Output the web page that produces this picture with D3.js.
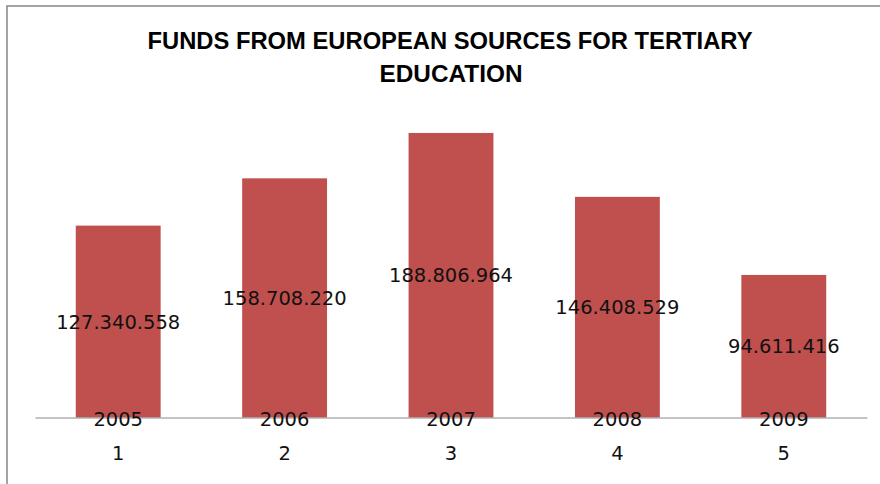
<!DOCTYPE html>
<html>
<head>
<meta charset="utf-8">
<script src="https://cdn.jsdelivr.net/npm/d3@7"></script>
<style>
  html, body { margin: 0; padding: 0; background: #fff; }
  svg { display: block; }
</style>
</head>
<body>
<svg id="chart" width="880" height="484"></svg>
<script>
const titleLines = ["FUNDS FROM EUROPEAN SOURCES FOR TERTIARY", "EDUCATION"];
const categories = ["1", "2", "3", "4", "5"];
const years = ["2005", "2006", "2007", "2008", "2009"];
const values = [127340558, 158708220, 188806964, 146408529, 94611416];
const valueLabels = ["127.340.558", "158.708.220", "188.806.964", "146.408.529", "94.611.416"];

const svg = d3.select("#chart");
const W = 880, H = 484;

// outer frame (chart area border, cut at right/bottom)
svg.append("rect")
  .attr("x", 7).attr("y", 6)
  .attr("width", W + 20).attr("height", H + 20)
  .attr("fill", "#fff")
  .attr("stroke", "#868686").attr("stroke-width", 1.5);

const x = d3.scaleBand()
  .domain(categories)
  .range([35, 867])
  .paddingInner(0.49)
  .paddingOuter(0.245);

const y = d3.scaleLinear()
  .domain([0, 200000000])
  .range([417.5, 116.1]);

const data = categories.map((c, i) => ({ c, year: years[i], v: values[i], label: valueLabels[i] }));

// bars
svg.append("g").selectAll("rect")
  .data(data).join("rect")
  .attr("x", d => x(d.c))
  .attr("y", d => y(d.v))
  .attr("width", x.bandwidth())
  .attr("height", d => y(0) - y(d.v))
  .attr("fill", "#C0504D");

// category axis line
const axis = d3.axisBottom(x).tickSize(0).tickFormat("");
const ax = svg.append("g").attr("transform", `translate(0,${y(0)})`).call(axis);
ax.select(".domain").attr("stroke", "#8a8a8a").attr("stroke-width", 1.2);

const labelFont = "'DejaVu Sans', Verdana, sans-serif";

// value labels (centered in bar)
svg.append("g").selectAll("text")
  .data(data).join("text")
  .attr("x", d => x(d.c) + x.bandwidth() / 2)
  .attr("y", d => (y(d.v) + y(0)) / 2)
  .attr("dy", "0.36em")
  .attr("text-anchor", "middle")
  .attr("font-family", labelFont)
  .attr("font-size", 19.5)
  .attr("fill", "#111")
  .text(d => d.label);

// year labels at base
svg.append("g").selectAll("text")
  .data(data).join("text")
  .attr("x", d => x(d.c) + x.bandwidth() / 2)
  .attr("y", 419)
  .attr("dy", "0.36em")
  .attr("text-anchor", "middle")
  .attr("font-family", labelFont)
  .attr("font-size", 19.5)
  .attr("fill", "#111")
  .text(d => d.year);

// category tick labels
svg.append("g").selectAll("text")
  .data(data).join("text")
  .attr("x", d => x(d.c) + x.bandwidth() / 2)
  .attr("y", 452.5)
  .attr("dy", "0.36em")
  .attr("text-anchor", "middle")
  .attr("font-family", labelFont)
  .attr("font-size", 19.5)
  .attr("fill", "#111")
  .text(d => d.c);

// title
const titleFont = "'Liberation Sans', Arial, sans-serif";
const titleSpecs = [
  { cx: 450, base: 49, len: 605 },
  { cx: 451, base: 82, len: 143 }
];
svg.append("g").selectAll("text")
  .data(titleLines).join("text")
  .attr("x", (d, i) => titleSpecs[i].cx)
  .attr("y", (d, i) => titleSpecs[i].base)
  .attr("text-anchor", "middle")
  .attr("font-family", titleFont)
  .attr("font-weight", "bold")
  .attr("font-size", 23.5)
  .attr("fill", "#000")
  .attr("textLength", (d, i) => titleSpecs[i].len)
  .attr("lengthAdjust", "spacingAndGlyphs")
  .text(d => d);
</script>
</body>
</html>
